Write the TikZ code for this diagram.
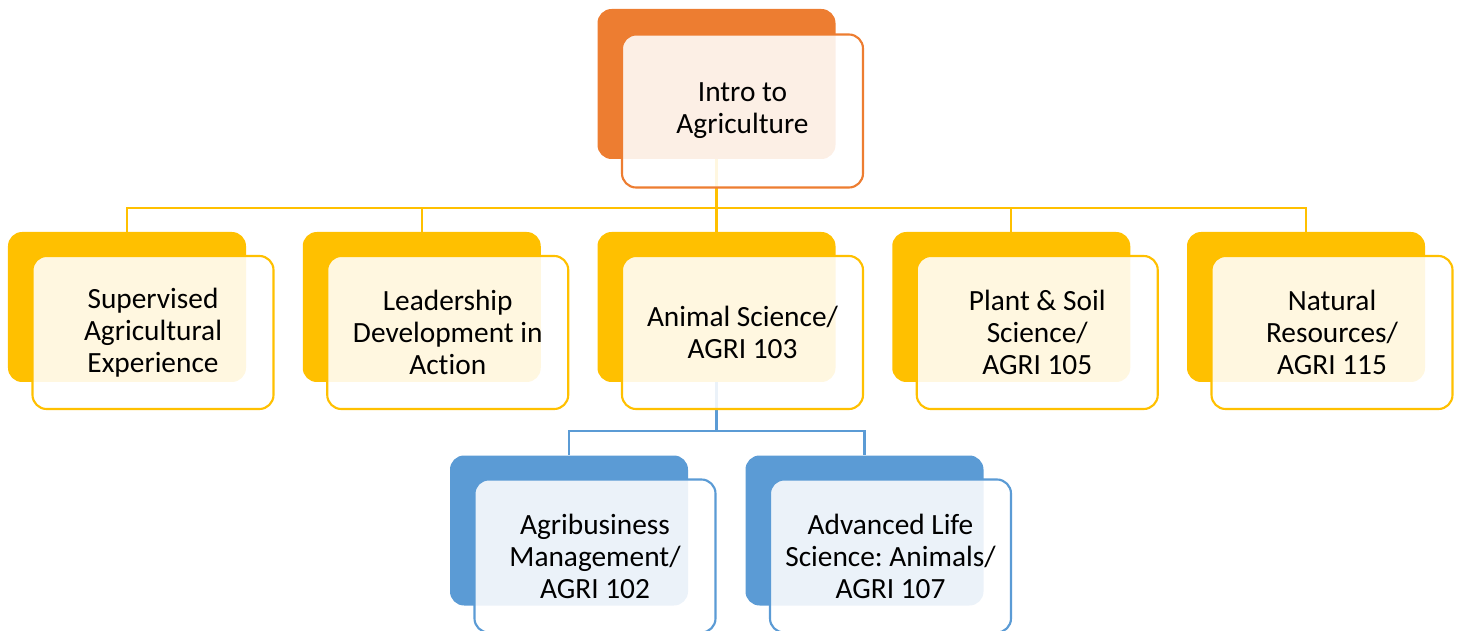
\documentclass[tikz,border=0pt]{standalone}
\usepackage{fontspec}
\setmainfont{Carlito}[Ligatures=NoCommon]
\frenchspacing
\usepackage{xcolor}
\usetikzlibrary{shapes,arrows,positioning,fit,backgrounds}

\definecolor{introorange}{HTML}{ED7D31}
\definecolor{coursegold}{HTML}{FFC000}
\definecolor{electiveblue}{HTML}{5B9BD5}

\begin{document}
\begin{tikzpicture}[
    % Define styles
    backcard/.style={rectangle, rounded corners=8pt, fill=#1, draw=none, minimum width=4.76cm, minimum height=3cm},
    frontcard/.style={rectangle, rounded corners=8pt, draw=#1, line width=1.2pt, fill=white, fill opacity=0.88, text opacity=1, minimum width=4.82cm, minimum height=3.06cm, align=center, text=black, font=\fontsize{16.7}{18.2}\selectfont},
    connector/.style={line width=1.2pt, draw=#1}
]

\useasboundingbox (0,0) rectangle (29.2,-12.62);

% Top course
\node[backcard=introorange] (intro) at (14.33,-1.68) {};
\node[frontcard=introorange] (introtext) at (14.85,-2.22) {Intro to\\Agriculture};

% Core courses
\node[backcard=coursegold] (sae) at (2.54,-6.14) {};
\node[frontcard=coursegold] (saetext) at (3.06,-6.65) {Supervised\\Agricultural\\Experience};
\node[backcard=coursegold] (leadership) at (8.435,-6.14) {};
\node[frontcard=coursegold] (leadershiptext) at (8.955,-6.65) {Leadership\\Development in\\Action};
\node[backcard=coursegold] (animal) at (14.33,-6.14) {};
\node[frontcard=coursegold] (animaltext) at (14.85,-6.65) {Animal Science/\\AGRI 103};
\node[backcard=coursegold] (plant) at (20.225,-6.14) {};
\node[frontcard=coursegold] (planttext) at (20.745,-6.65) {Plant \& Soil\\Science/\\AGRI 105};
\node[backcard=coursegold] (natural) at (26.12,-6.14) {};
\node[frontcard=coursegold] (naturaltext) at (26.64,-6.65) {Natural\\Resources/\\AGRI 115};

% Animal science follow-ups
\node[backcard=electiveblue] (agribusiness) at (11.38,-10.61) {};
\node[frontcard=electiveblue] (agribusinesstext) at (11.9,-11.12) {Agribusiness\\Management/\\AGRI 102};
\node[backcard=electiveblue] (advanced) at (17.29,-10.61) {};
\node[frontcard=electiveblue] (advancedtext) at (17.81,-11.12) {Advanced Life\\Science: Animals/\\AGRI 107};

% Connections (behind the cards)
\begin{scope}[on background layer]
    \coordinate (corebus) at (14.33,-4.16);
    \draw[connector=coursegold] (intro.south) -- (corebus);
    \draw[connector=coursegold] (corebus) -| (sae.north);
    \draw[connector=coursegold] (corebus) -| (leadership.north);
    \draw[connector=coursegold] (corebus) -- (animal.north);
    \draw[connector=coursegold] (corebus) -| (plant.north);
    \draw[connector=coursegold] (corebus) -| (natural.north);

    \coordinate (electivebus) at (14.33,-8.62);
    \draw[connector=electiveblue] (animal.south) -- (electivebus);
    \draw[connector=electiveblue] (electivebus) -| (agribusiness.north);
    \draw[connector=electiveblue] (electivebus) -| (advanced.north);
\end{scope}

\end{tikzpicture}
\end{document}
